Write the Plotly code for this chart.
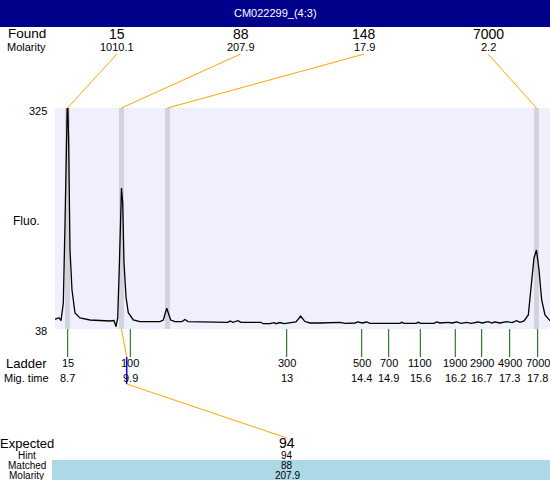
import plotly.graph_objects as go

# ---------------- data ----------------
time_min = [8.454, 8.531, 8.570, 8.615, 8.648, 8.667, 8.696, 8.719, 8.744, 8.783, 8.841, 8.938,
            9.132, 9.519, 9.596, 9.635, 9.668, 9.703, 9.741, 9.765, 9.790, 9.829, 9.873, 9.970,
            10.100, 10.487, 10.551, 10.617, 10.694, 10.777, 10.913, 10.971, 11.029, 11.803, 11.842,
            11.900, 11.997, 12.055, 12.442, 12.481, 12.617, 12.694, 12.733, 12.810, 12.888, 13.120,
            13.211, 13.293, 13.391, 13.585, 13.972, 14.069, 14.262, 14.320, 14.398, 14.489, 14.553,
            15.134, 15.166, 15.211, 15.443, 15.488, 15.540, 15.792, 15.844, 15.908, 16.063, 16.141,
            16.232, 16.315, 16.425, 16.509, 16.644, 16.722, 16.843, 16.915, 16.973, 17.070, 17.199,
            17.302, 17.393, 17.457, 17.535, 17.618, 17.684, 17.728, 17.776, 17.825, 17.877, 17.941,
            18.038]
fluo = [50.6, 52.7, 48.8, 71.8, 175.6, 261.4, 345.0, 279.5, 140.6, 88.6, 58.8, 52.3,
        49.7, 48.4, 49.0, 41.0, 52.3, 127.6, 221.1, 201.6, 123.7, 79.6, 59.2, 49.7,
        47.7, 47.7, 49.7, 64.9, 49.7, 47.7, 47.7, 50.3, 47.7, 46.7, 48.4,
        46.7, 48.8, 46.7, 46.7, 44.9, 44.9, 46.2, 44.9, 46.4, 45.1, 47.1,
        54.9, 47.7, 45.8, 45.8, 46.7, 45.4, 45.8, 47.1, 45.8, 47.1, 45.4,
        45.4, 46.7, 45.4, 45.4, 46.7, 45.4, 45.4, 47.1, 45.8, 46.7, 45.8,
        47.1, 45.4, 46.7, 45.4, 47.1, 45.8, 47.5, 45.8, 47.1, 45.8, 47.5,
        46.4, 48.8, 46.7, 48.4, 56.2, 101.6, 130.2, 140.6, 114.6, 75.7, 56.2,
        48.8]

y_range = [38, 325]
x_range = [8.454, 18.038]
y_tick_labels = ["325", "38"]

found_sizes = ["15", "88", "148", "7000"]
found_molarity = ["1010.1", "207.9", "17.9", "2.2"]
found_times = [8.696, 9.741, 10.632, 17.776]

ladder_sizes = ["15", "100", "300", "500", "700", "1100", "1900", "2900", "4900", "7000"]
ladder_times = [8.700, 9.912, 12.940, 14.392, 14.915, 15.527, 16.204, 16.715, 17.257, 17.799]
ladder_time_labels = ["8.7", "9.9", "13", "14.4", "14.9", "15.6", "16.2", "16.7", "17.3", "17.8"]

expected_size = "94"
expected_hint = "94"
matched_size = "88"
matched_molarity = "207.9"
expected_time = 9.842
matched_time = 9.741

title = "CM022299_(4:3)"

# ---------------- layout constants (pixels) ----------------
W, H = 550, 480
PL, PR, PT, PB = 55, 550, 108, 329
LEFT_CX = 26.5
FONT = "Arial, Liberation Sans, sans-serif"
BG = "#EFEFFD"
BAND = "#D3D3DE"
ORANGE = "#FFA500"
GREEN = "#006600"


def py(p):
    return 1 - p / H


def px(p):
    return p / W


def t_of_px(p):
    return x_range[0] + (p - PL) / (PR - PL) * (x_range[1] - x_range[0])


band_w = 5 / (PR - PL) * (x_range[1] - x_range[0])

fig = go.Figure()
fig.add_trace(go.Scatter(x=time_min, y=fluo, mode="lines",
                         line=dict(color="black", width=1.3), hoverinfo="skip"))

shapes = []
annotations = []


def ann(x, y, text, size, xref="paper", xanchor="center", color="black"):
    annotations.append(dict(x=x, y=y, xref=xref, yref="paper", text=text, showarrow=False,
                            xanchor=xanchor, yanchor="middle", borderpad=0,
                            font=dict(family=FONT, size=size, color=color)))


# title bar
shapes.append(dict(type="rect", xref="paper", yref="paper", x0=0, x1=1, y0=py(27), y1=1,
                   fillcolor="#00008B", line=dict(width=0), layer="below"))
ann(0.5, py(13.5), title, 11, color="white")

# peak bands
for t in found_times:
    shapes.append(dict(type="rect", xref="x", yref="y", x0=t - band_w / 2, x1=t + band_w / 2,
                       y0=y_range[0], y1=y_range[1], fillcolor=BAND, line=dict(width=0),
                       layer="below"))

# found labels + connectors
n = len(found_sizes)
ann(px(LEFT_CX), py(34), "Found", 13.5)
ann(px(LEFT_CX), py(47), "Molarity", 11)
for i, (s, m, t) in enumerate(zip(found_sizes, found_molarity, found_times)):
    tl = x_range[0] + (i + 0.5) / n * (x_range[1] - x_range[0])
    ann(tl, py(34), s, 14, xref="x")
    ann(tl, py(47), m, 11, xref="x")
    shapes.append(dict(type="line", xref="x", yref="paper", x0=t, y0=py(PT), x1=tl, y1=py(54),
                       line=dict(color=ORANGE, width=1)))

# y labels
ann(px(48), py(110.5), y_tick_labels[0], 11, xanchor="right")
ann(px(48), py(330.5), y_tick_labels[1], 11, xanchor="right")
ann(px(LEFT_CX), py(221), "Fluo.", 12)

# ladder
ann(px(LEFT_CX), py(363), "Ladder", 13)
ann(px(LEFT_CX), py(377.5), "Mig. time", 11)
for s, t, lab in zip(ladder_sizes, ladder_times, ladder_time_labels):
    shapes.append(dict(type="line", xref="x", yref="paper", x0=t, x1=t, y0=py(PB), y1=py(357),
                       line=dict(color=GREEN, width=1)))
    ann(t, py(363), s, 11, xref="x")
    ann(t, py(377.5), lab, 11, xref="x")

# expected connector
EXP_X = 287
shapes.append(dict(type="line", xref="x", yref="paper", x0=matched_time, y0=py(PB),
                   x1=expected_time, y1=py(357), line=dict(color=ORANGE, width=1)))
shapes.append(dict(type="line", xref="x", yref="paper", x0=expected_time, y0=py(357),
                   x1=expected_time, y1=py(384), line=dict(color="blue", width=1.5)))
shapes.append(dict(type="line", xref="x", yref="paper", x0=expected_time, y0=py(384),
                   x1=t_of_px(EXP_X), y1=py(438), line=dict(color=ORANGE, width=1)))

# bottom table
shapes.append(dict(type="rect", xref="paper", yref="paper", x0=px(52), x1=1, y0=0, y1=py(460),
                   fillcolor="#ADD8E6", line=dict(width=0), layer="below"))
ann(px(LEFT_CX), py(443), "Expected", 13)
ann(px(EXP_X), py(443), expected_size, 14)
ann(px(LEFT_CX), py(455), "Hint", 10)
ann(px(EXP_X), py(455), expected_hint, 10)
ann(px(LEFT_CX), py(465.5), "Matched", 10)
ann(px(EXP_X), py(465.5), matched_size, 10)
ann(px(LEFT_CX), py(475), "Molarity", 10)
ann(px(EXP_X), py(475), matched_molarity, 10)

fig.update_layout(
    width=W, height=H, margin=dict(l=0, r=0, t=0, b=0),
    paper_bgcolor="white", plot_bgcolor=BG, showlegend=False,
    xaxis=dict(domain=[PL / W, PR / W], range=x_range, visible=False, fixedrange=True),
    yaxis=dict(domain=[py(PB), py(PT)], range=y_range, visible=False, fixedrange=True),
    shapes=shapes, annotations=annotations,
)

fig.write_html("out.html", config={"displayModeBar": False},
               post_script="document.body.style.margin='0';document.body.style.overflow='hidden';")
